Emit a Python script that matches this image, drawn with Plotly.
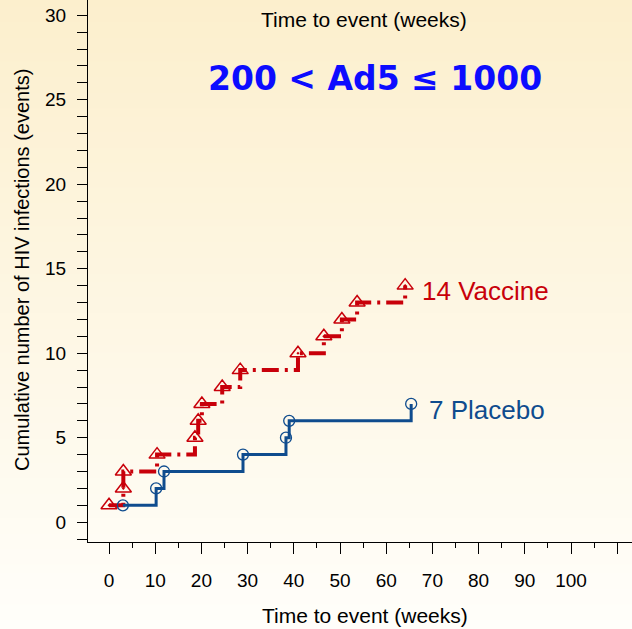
import plotly.graph_objects as go

# Cumulative HIV infections by arm (event times in weeks)
vaccine_weeks = [0, 3.1, 3.1, 10.4, 18.6, 19.3, 20.1, 24.5, 28.4, 40.9, 46.5, 50.4, 53.7, 64.1]
vaccine_cum = [1, 2, 3, 4, 5, 6, 7, 8, 9, 10, 11, 12, 13, 14]
placebo_weeks = [3.0, 10.2, 11.9, 29.0, 38.3, 39.0, 65.4]
placebo_cum = [1, 2, 3, 4, 5, 6, 7]

x_tick_vals = [0, 10, 20, 30, 40, 50, 60, 70, 80, 90, 100, 110]
x_tick_text = ["0", "10", "20", "30", "40", "50", "60", "70", "80", "90", "100", ""]
y_tick_vals = [0, 5, 10, 15, 20, 25, 30]

W, H = 632, 629
RED = "#c8000a"
BLUE = "#0f4c8e"

fig = go.Figure()

fig.add_trace(go.Scatter(
    x=vaccine_weeks, y=vaccine_cum, mode="lines+markers", line_shape="hv",
    line=dict(color=RED, width=4, dash="17px,6px,3px,6px"),
    marker=dict(symbol="triangle-up-open-dot", size=14, color=RED, line=dict(width=1.5, color=RED)),
    showlegend=False, cliponaxis=False,
))
fig.add_trace(go.Scatter(
    x=placebo_weeks, y=placebo_cum, mode="lines+markers", line_shape="hv",
    line=dict(color=BLUE, width=3),
    marker=dict(symbol="circle-open", size=11, color=BLUE, line=dict(width=1.3, color=BLUE)),
    showlegend=False, cliponaxis=False,
))

# Vertical cream-to-white background gradient built from thin bands
shapes = []
n = 80
top = (252, 239, 205)
bot = (255, 254, 250)
for i in range(n):
    f = i / (n - 1)
    c = tuple(round(top[k] + (bot[k] - top[k]) * f) for k in range(3))
    shapes.append(dict(
        type="rect", xref="paper", yref="paper", layer="below",
        x0=0, x1=1, y0=1 - (i + 1) / n, y1=1 - i / n + 0.002,
        fillcolor="rgb(%d,%d,%d)" % c, line=dict(width=0),
    ))

def px(xp):
    return xp / W

def py(yp):
    return 1 - yp / H

annotations = [
    dict(text="Time to event (weeks)", xref="paper", yref="paper", x=px(364), y=py(20),
         showarrow=False, font=dict(family="Liberation Sans, Arial", size=21, color="black"),
         xanchor="center", yanchor="middle"),
    dict(text="Time to event (weeks)", xref="paper", yref="paper", x=px(365), y=py(615),
         showarrow=False, font=dict(family="Liberation Sans, Arial", size=21, color="black"),
         xanchor="center", yanchor="middle"),
    dict(text="Cumulative number of HIV infections (events)", xref="paper", yref="paper",
         x=px(22), y=py(270), textangle=-90, showarrow=False,
         font=dict(family="Liberation Sans, Arial", size=20, color="black"),
         xanchor="center", yanchor="middle"),
    dict(text="<b>200 &lt; Ad5 \u2264 1000</b>", xref="paper", yref="paper", x=px(375), y=py(78),
         showarrow=False, font=dict(family="DejaVu Sans", size=33, color="#0c0cff"),
         xanchor="center", yanchor="middle"),
    dict(text="14 Vaccine", x=67.3, y=13.7, xref="x", yref="y", showarrow=False,
         font=dict(family="Liberation Sans, Arial", size=26, color=RED),
         xanchor="left", yanchor="middle"),
    dict(text="7 Placebo", x=68.8, y=6.65, xref="x", yref="y", showarrow=False,
         font=dict(family="Liberation Sans, Arial", size=26, color=BLUE),
         xanchor="left", yanchor="middle"),
]

fig.update_layout(
    width=W, height=H,
    margin=dict(l=0, r=0, t=0, b=0),
    paper_bgcolor="rgba(0,0,0,0)", plot_bgcolor="rgba(0,0,0,0)",
    shapes=shapes, annotations=annotations,
    xaxis=dict(
        domain=[88 / W, 1], range=[-4.55, 113.2],
        showgrid=False, zeroline=False, showline=True, linecolor="black", linewidth=1,
        ticks="outside", ticklen=11, tickcolor="black", tickwidth=1,
        tickvals=x_tick_vals, ticktext=x_tick_text,
        tickfont=dict(family="Liberation Sans, Arial", size=19, color="black"),
        ticklabelstandoff=10,
        minor=dict(dtick=5, tick0=0, ticks="outside", ticklen=5, tickcolor="black", tickwidth=1, showgrid=False),
    ),
    yaxis=dict(
        domain=[(H - 542) / H, 1], range=[-1.17, 30.9],
        showgrid=False, zeroline=False, showline=True, linecolor="black", linewidth=1,
        ticks="outside", ticklen=10, tickcolor="black", tickwidth=1,
        tickvals=y_tick_vals,
        tickfont=dict(family="Liberation Sans, Arial", size=19, color="black"),
        ticklabelstandoff=7,
        minor=dict(dtick=1, tick0=0, ticks="outside", ticklen=10, tickcolor="black", tickwidth=1, showgrid=False),
    ),
)

fig.write_html("out.html")
